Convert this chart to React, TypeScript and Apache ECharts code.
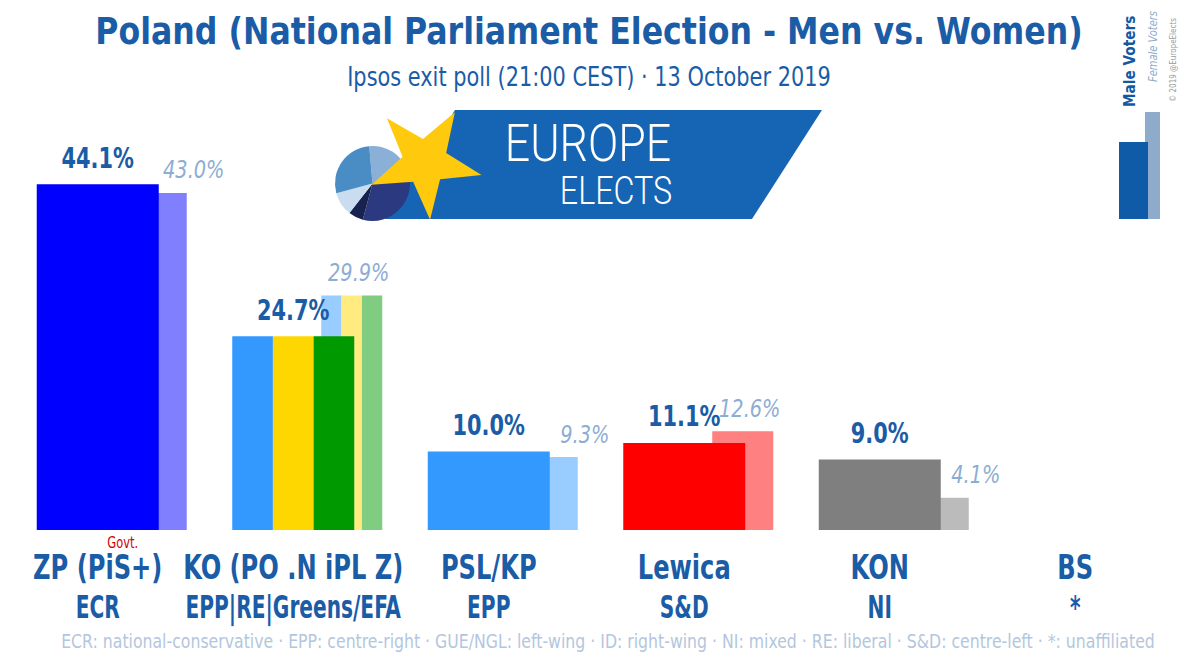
import React, { useEffect, useRef } from "react";
import * as echarts from "echarts";

const categories = ["ZP (PiS+)", "KO (PO .N iPL Z)", "PSL/KP", "Lewica", "KON", "BS"];
const groups = ["ECR", "EPP|RE|Greens/EFA", "EPP", "S&D", "NI", "*"];
const maleValues: (number | null)[] = [44.1, 24.7, 10.0, 11.1, 9.0, null];
const femaleValues: (number | null)[] = [43.0, 29.9, 9.3, 12.6, 4.1, null];
const maleColors = [["#0000FF"], ["#3399FF", "#FFD700", "#009900"], ["#3399FF"], ["#FF0000"], ["#7F7F7F"], ["#7F7F7F"]];
const femaleColors = [["#8080FF"], ["#99CCFF", "#FFEB80", "#80CC80"], ["#99CCFF"], ["#FF8080"], ["#BBBBBB"], ["#BBBBBB"]];
const govtFlags = [true, false, false, false, false, false];
const titleText = "Poland (National Parliament Election - Men vs. Women)";
const subtitleText = "Ipsos exit poll (21:00 CEST) · 13 October 2019";
const noteText = "ECR: national-conservative · EPP: centre-right · GUE/NGL: left-wing · ID: right-wing · NI: mixed · RE: liberal · S&D: centre-left · *: unaffiliated";

const FONT = "'DejaVu Sans Condensed', 'DejaVu Sans', sans-serif";
const DARK = "#1A5CA6";
const LIGHT = "#8CADD3";

function starPoints(cx: number, cy: number, R: number, r: number, startDeg: number) {
  const pts: number[][] = [];
  for (let k = 0; k < 10; k++) {
    const a = ((startDeg + k * 36) * Math.PI) / 180;
    const rad = k % 2 === 0 ? R : r;
    pts.push([cx + rad * Math.cos(a), cy + rad * Math.sin(a)]);
  }
  return pts;
}

function txt(x: number, y: number, text: string, style: any, scaleX = 1, rotation = 0) {
  return {
    type: "text",
    x,
    y,
    scaleX,
    rotation,
    style: { text, fontFamily: FONT, textAlign: "center", textVerticalAlign: "middle", ...style },
  };
}

export default function App() {
  const ref = useRef<HTMLDivElement>(null);
  useEffect(() => {
    if (!ref.current) return;
    const chart = echarts.init(ref.current, undefined, { renderer: "svg" });
    const data = categories.map((_, i) => [i, maleValues[i] ?? 0, femaleValues[i] ?? 0]);
    const deg = (d: number) => (d * Math.PI) / 180;
    const pc = { cx: 372.5, cy: 183.5, r: 37.5 };
    const option: any = {
      animation: false,
      grid: { left: -3, width: 1176, top: 138, height: 392 },
      xAxis: {
        type: "category",
        data: categories,
        axisLine: { show: false },
        axisTick: { show: false },
        splitLine: { show: false },
        axisLabel: { show: false },
      },
      yAxis: { type: "value", min: 0, max: 50, show: false },
      series: [
        {
          type: "custom",
          data,
          clip: false,
          renderItem: (params: any, api: any) => {
            const i = api.value(0);
            const m = api.value(1);
            const f = api.value(2);
            const [cx, y0] = api.coord([i, 0]);
            const children: any[] = [];
            if (maleValues[i] != null) {
              const yM = api.coord([i, m])[1];
              const yF = api.coord([i, f])[1];
              const mW = 122;
              const fW = 61;
              const mL = cx - 61;
              const fL = cx + 28;
              const fc = femaleColors[i];
              fc.forEach((c, k) => {
                children.push({
                  type: "rect",
                  shape: { x: fL + (fW / fc.length) * k, y: yF, width: fW / fc.length, height: y0 - yF },
                  style: { fill: c },
                });
              });
              const mc = maleColors[i];
              mc.forEach((c, k) => {
                children.push({
                  type: "rect",
                  shape: { x: mL + (mW / mc.length) * k, y: yM, width: mW / mc.length, height: y0 - yM },
                  style: { fill: c },
                });
              });
              children.push(
                txt(cx, yM - 26.5, m.toFixed(1) + "%", { fontSize: 29, fontWeight: "bold", fill: DARK }, 0.8)
              );
              const fx = f >= m ? fL + fW / 2 + 7 : fL + fW + 7;
              children.push(
                txt(fx, yF - 23.5, f.toFixed(1) + "%", { fontSize: 25, fontStyle: "italic", fill: LIGHT }, 0.86)
              );
            }
            if (govtFlags[i]) {
              children.push(txt(cx + 25, y0 + 13, "Govt.", { fontSize: 15, fill: "#D40000" }, 0.85));
            }
            children.push(
              txt(cx, y0 + 37.5, categories[i], { fontSize: 34, fontWeight: "bold", fill: DARK }, 0.79)
            );
            children.push(
              txt(cx, y0 + 76.5, groups[i], { fontSize: 32, fontWeight: "bold", fill: DARK }, 0.7)
            );
            return { type: "group", children };
          },
        },
      ],
      graphic: [
        txt(589, 31, titleText, { fontSize: 38, fontWeight: "bold", fill: DARK }, 0.925),
        txt(589, 77, subtitleText, { fontSize: 27, fill: DARK }, 0.86),
        txt(608, 641, noteText, { fontSize: 19, fill: "#B3C6DE" }, 0.92),
        // logo banner
        {
          type: "polygon",
          shape: { points: [[455, 110], [822, 110], [752, 219], [385, 219]] },
          style: { fill: "#1664B4" },
        },
        { type: "sector", shape: { cx: pc.cx, cy: pc.cy, r: pc.r, startAngle: deg(-95), endAngle: deg(-20) }, style: { fill: "#8AB0D8" } },
        { type: "sector", shape: { cx: pc.cx, cy: pc.cy, r: pc.r, startAngle: deg(-20), endAngle: deg(105) }, style: { fill: "#2B3A80" } },
        { type: "sector", shape: { cx: pc.cx, cy: pc.cy, r: pc.r, startAngle: deg(105), endAngle: deg(128) }, style: { fill: "#18224E" } },
        { type: "sector", shape: { cx: pc.cx, cy: pc.cy, r: pc.r, startAngle: deg(128), endAngle: deg(165) }, style: { fill: "#C9DCF0" } },
        { type: "sector", shape: { cx: pc.cx, cy: pc.cy, r: pc.r, startAngle: deg(165), endAngle: deg(265) }, style: { fill: "#4A8DC5" } },
        {
          type: "polygon",
          shape: { points: starPoints(425, 162, 58, 23, 13) },
          style: { fill: "#FFC90E" },
        },
        txt(588, 143.5, "EUROPE", { fontFamily: "Roboto, sans-serif", fontSize: 52, fontWeight: 300, fill: "#FFFFFF" }, 0.86),
        txt(616, 191.5, "ELECTS", { fontFamily: "Roboto, sans-serif", fontSize: 38, fontWeight: 300, fill: "#FFFFFF" }, 0.85),
        // legend
        { type: "rect", shape: { x: 1145, y: 112, width: 15, height: 107 }, style: { fill: "#8EABCC" } },
        { type: "rect", shape: { x: 1119, y: 142, width: 29, height: 77 }, style: { fill: "#0F5BA8" } },
        {
          type: "text",
          x: 1130,
          y: 107,
          rotation: Math.PI / 2,
          scaleX: 0.95,
          style: { text: "Male Voters", fontFamily: FONT, fontSize: 16, fontWeight: "bold", fill: "#1457A2", textAlign: "left", textVerticalAlign: "middle" },
        },
        {
          type: "text",
          x: 1153,
          y: 82,
          rotation: Math.PI / 2,
          scaleX: 0.92,
          style: { text: "Female Voters", fontFamily: FONT, fontSize: 12, fontStyle: "italic", fill: "#8EABCC", textAlign: "left", textVerticalAlign: "middle" },
        },
        {
          type: "text",
          x: 1173,
          y: 102,
          rotation: Math.PI / 2,
          style: { text: "© 2019 @EuropeElects", fontFamily: FONT, fontSize: 8, fill: "#9A9A9A", textAlign: "left", textVerticalAlign: "middle" },
        },
      ],
    };
    chart.setOption(option);
    return () => chart.dispose();
  }, []);
  return (
    <div
      ref={ref}
      style={{ position: "fixed", left: 0, top: 0, width: 1200, height: 662, background: "#FFFFFF" }}
    />
  );
}
